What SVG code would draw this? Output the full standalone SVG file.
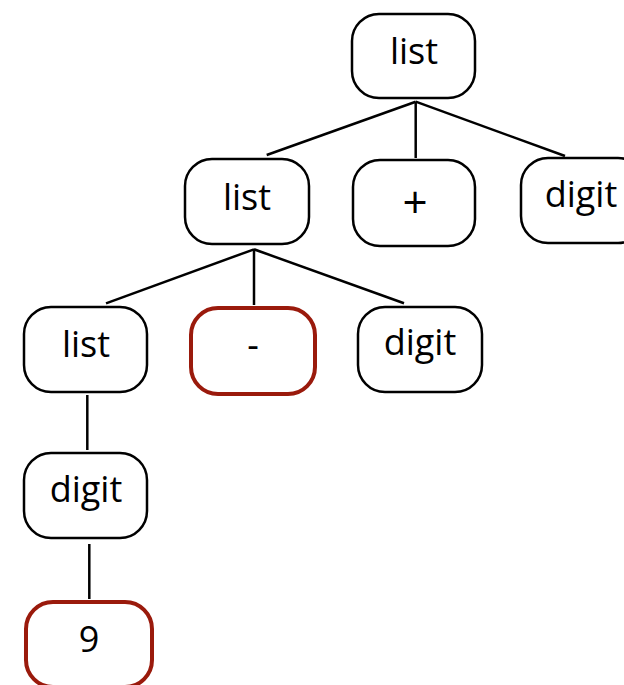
<svg xmlns="http://www.w3.org/2000/svg" width="624" height="685" viewBox="0 0 624 685">
<style>
.box{fill:#fff;stroke:#000;stroke-width:2.5}
.red{fill:#fff;stroke:#9a1a0c;stroke-width:4}
.lbl{font-family:"Open Sans","Noto Sans",sans-serif;font-size:36px;fill:#000;text-anchor:middle}
.edge{stroke:#000;stroke-width:2.5;fill:none}
</style>
<rect width="624" height="685" fill="#fff"/>
<g id="connectors">
<line class="edge" x1="415.7" y1="101.7" x2="266.7" y2="155"/>
<line class="edge" x1="415.7" y1="101.7" x2="415.7" y2="158"/>
<line class="edge" x1="415.7" y1="101.7" x2="565" y2="156"/>
<line class="edge" x1="254" y1="249.3" x2="106" y2="303.3"/>
<line class="edge" x1="254" y1="249.3" x2="254" y2="305"/>
<line class="edge" x1="254" y1="249.3" x2="404" y2="303.3"/>
<line class="edge" x1="87.3" y1="395" x2="87.3" y2="450"/>
<line class="edge" x1="89.3" y1="544" x2="89.3" y2="599"/>
</g>
<g id="n1"><rect class="box" x="352" y="14" width="123" height="84" rx="27"/><text class="lbl" x="414" y="64">list</text></g>
<g id="n2"><rect class="box" x="185" y="159" width="124" height="85" rx="27"/><text class="lbl" x="247" y="210">list</text></g>
<g id="n3"><rect class="box" x="353" y="160" width="122" height="86" rx="27"/><text class="lbl" x="415" y="218" style="font-size:44px">+</text></g>
<g id="n4"><rect class="box" x="521" y="158" width="124" height="85" rx="27"/><text class="lbl" x="581" y="207">digit</text></g>
<g id="n5"><rect class="box" x="24" y="307" width="123" height="85" rx="27"/><text class="lbl" x="86" y="357">list</text></g>
<g id="n6"><rect class="red" x="191" y="308" width="124" height="86" rx="27"/><text class="lbl" x="253" y="358">-</text></g>
<g id="n7"><rect class="box" x="358" y="307" width="124" height="85" rx="27"/><text class="lbl" x="420" y="355">digit</text></g>
<g id="n8"><rect class="box" x="24" y="453" width="123" height="85" rx="27"/><text class="lbl" x="86" y="502">digit</text></g>
<g id="n9"><rect class="red" x="26" y="602" width="126" height="85" rx="27"/><text class="lbl" x="89" y="652">9</text></g>
</svg>
